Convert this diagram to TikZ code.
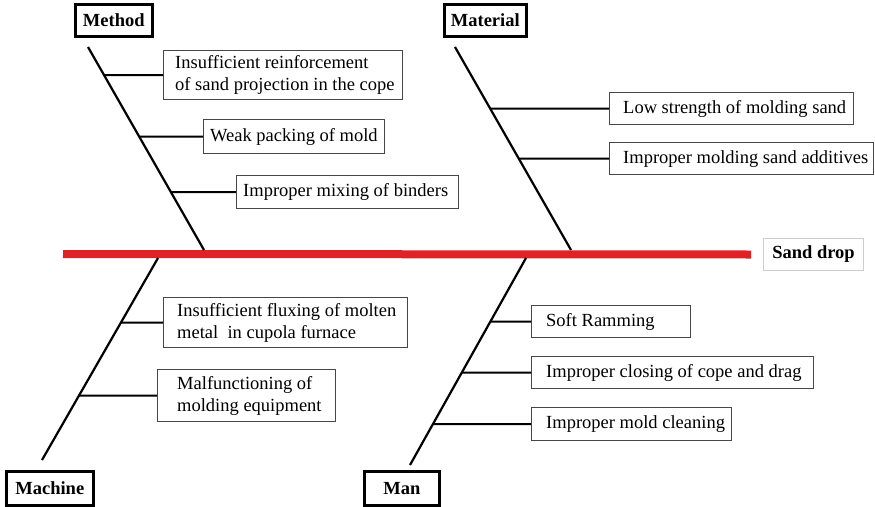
\documentclass[tikz,border=0pt]{standalone}
\usepackage{fontspec}
\setmainfont{Liberation Serif}
\definecolor{spinered}{RGB}{222,34,38}
\definecolor{causegray}{RGB}{70,70,70}
\definecolor{headgray}{RGB}{205,205,205}
\begin{document}
\begin{tikzpicture}[x=1pt,y=-1pt,
  cat/.style={draw=black, line width=2.6pt, font=\fontsize{18.5}{22}\selectfont\bfseries,
    inner sep=0pt, anchor=north west},
  causebox/.style={draw=causegray, line width=1.3pt, inner sep=0pt, anchor=north west},
  causetext/.style={font=\fontsize{18.5}{22}\selectfont, align=left, inner sep=0pt, anchor=west},
  bone/.style={line width=2.2pt, black},
  twig/.style={line width=2pt, black},
  spine/.style={line width=8pt, spinered}]
\useasboundingbox (0,0) rectangle (875,506);

% effect
\node[draw=headgray, line width=1pt, inner sep=0pt, minimum width=100, minimum height=32,
  anchor=north west, font=\fontsize{18.5}{22}\selectfont\bfseries] (sd) at (763,238) {Sand drop};
\coordinate (tail) at (63,254);
\draw[spine] (tail) -- ([xshift=-12]sd.west);

% category headings
\node[cat, minimum width=77, minimum height=32] (method) at (74,3) {Method};
\node[cat, minimum width=82, minimum height=32] (material) at (443,3) {Material};
\node[cat, minimum width=87, minimum height=34] (machine) at (5,470) {Machine};
\node[cat, minimum width=75, minimum height=34] (man) at (363,470) {Man};

% main bones
\coordinate (mt) at (88,47);   \coordinate (mb) at (204,250);
\coordinate (at) at (455,47);  \coordinate (ab) at (571,250);
\coordinate (ct) at (158,258); \coordinate (cb) at (42,460);
\coordinate (nt) at (526,258); \coordinate (nb) at (410,465);
\draw[bone] (mt) -- (mb);
\draw[bone] (at) -- (ab);
\draw[bone] (ct) -- (cb);
\draw[bone] (nt) -- (nb);

% Method causes
\node[causebox, minimum width=239, minimum height=49] (m1) at (163,50) {};
\node[causetext] (m1t) at ([xshift=12]m1.west) {Insufficient reinforcement\\of sand projection in the cope};
\node[causebox, minimum width=181, minimum height=34] (m2) at (203,119) {};
\node[causetext] (m2t) at ([xshift=7]m2.west) {Weak packing of mold};
\node[causebox, minimum width=222, minimum height=33] (m3) at (236,175) {};
\node[causetext] (m3t) at ([xshift=7]m3.west) {Improper mixing of binders};
\foreach \b in {m1,m2,m3}
  \draw[twig] (\b.west) -- (intersection of mt--mb and \b.west--\b.east);

% Material causes
\node[causebox, minimum width=244, minimum height=32] (a1) at (609,92) {};
\node[causetext] (a1t) at ([xshift=14]a1.west) {Low strength of molding sand};
\node[causebox, minimum width=264, minimum height=32] (a2) at (609,142) {};
\node[causetext] (a2t) at ([xshift=14]a2.west) {Improper molding sand additives};
\foreach \b in {a1,a2}
  \draw[twig] (\b.west) -- (intersection of at--ab and \b.west--\b.east);

% Machine causes
\node[causebox, minimum width=244, minimum height=50] (c1) at (163,297) {};
\node[causetext] (c1t) at ([xshift=14]c1.west) {Insufficient fluxing of molten\\metal\ \ in cupola furnace};
\node[causebox, minimum width=178, minimum height=52] (c2) at (157,369) {};
\node[causetext] (c2t) at ([xshift=20]c2.west) {Malfunctioning of\\molding equipment};
\foreach \b in {c1,c2}
  \draw[twig] (\b.west) -- (intersection of ct--cb and \b.west--\b.east);

% Man causes
\node[causebox, minimum width=159, minimum height=32] (n1) at (531,305) {};
\node[causetext] (n1t) at ([xshift=15]n1.west) {Soft Ramming};
\node[causebox, minimum width=282, minimum height=32] (n2) at (531,356) {};
\node[causetext] (n2t) at ([xshift=15]n2.west) {Improper closing of cope and drag};
\node[causebox, minimum width=200, minimum height=33] (n3) at (531,407) {};
\node[causetext] (n3t) at ([xshift=15]n3.west) {Improper mold cleaning};
\foreach \b in {n1,n2,n3}
  \draw[twig] (\b.west) -- (intersection of nt--nb and \b.west--\b.east);
\end{tikzpicture}
\end{document}
